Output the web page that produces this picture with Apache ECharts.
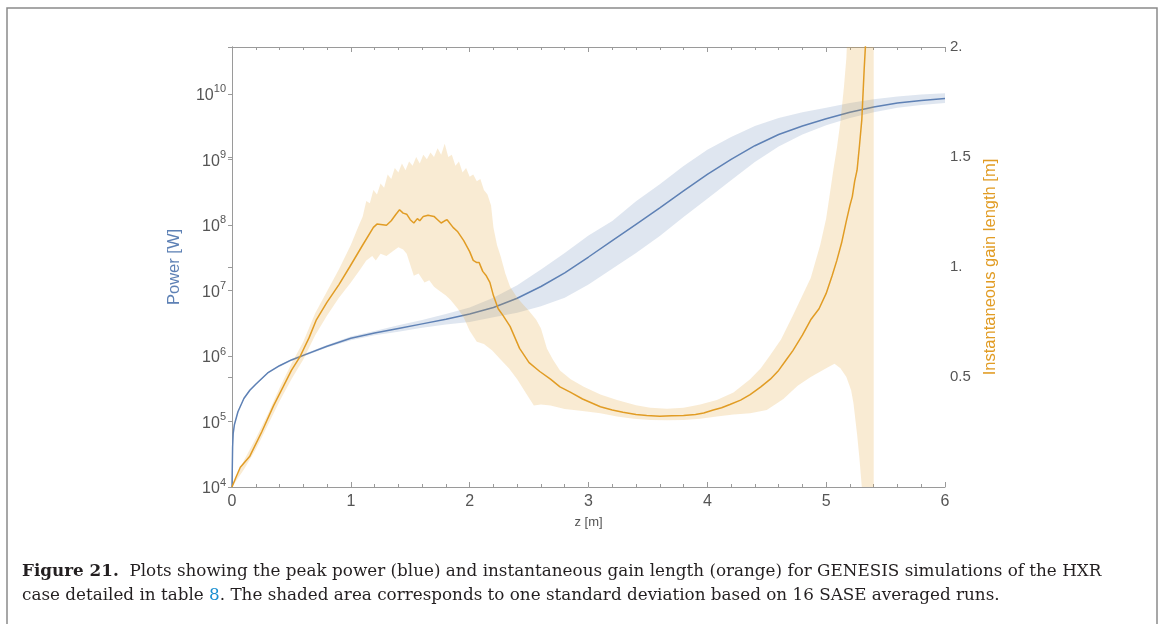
<!DOCTYPE html>
<html>
<head>
<meta charset="utf-8">
<script src="https://cdn.jsdelivr.net/npm/echarts@6/dist/echarts.min.js"></script>
<style>
  html, body { margin: 0; padding: 0; background: #ffffff; }
  #main { width: 1165px; height: 624px; }
</style>
</head>
<body>
<div id="main"></div>
<script>
// Peak power (W) along the undulator, mean and one-sigma band
const powerZ = [0, 0.005, 0.01, 0.02, 0.05, 0.1, 0.15, 0.2, 0.3, 0.4, 0.5, 0.6, 0.8, 1.0, 1.2, 1.4, 1.6, 1.8,
  2.0, 2.2, 2.4, 2.6, 2.8, 3.0, 3.2, 3.4, 3.6, 3.8, 4.0, 4.2, 4.4, 4.6, 4.8, 5.0, 5.2, 5.4, 5.6, 5.8, 6.0];
const powerMean = [1.0e4, 4.0e4, 6.6e4, 8.9e4, 1.41e5, 2.24e5, 3.0e5, 3.7e5, 5.5e5, 7.1e5, 8.7e5, 1.02e6, 1.41e6,
  1.86e6, 2.24e6, 2.63e6, 3.09e6, 3.63e6, 4.37e6, 5.5e6, 7.6e6, 1.15e7, 1.86e7, 3.24e7, 5.75e7, 1.02e8, 1.82e8,
  3.31e8, 5.9e8, 1.0e9, 1.62e9, 2.4e9, 3.24e9, 4.17e9, 5.25e9, 6.31e9, 7.24e9, 7.94e9, 8.51e9];
const powerUpper = [1.0e4, 4.1e4, 6.8e4, 9.2e4, 1.46e5, 2.3e5, 3.1e5, 3.8e5, 5.65e5, 7.3e5, 9.0e5, 1.06e6, 1.47e6,
  1.99e6, 2.4e6, 2.95e6, 3.55e6, 4.37e6, 5.5e6, 7.76e6, 1.2e7, 2.09e7, 3.72e7, 6.9e7, 1.15e8, 2.29e8, 4.17e8,
  7.94e8, 1.41e9, 2.19e9, 3.24e9, 4.27e9, 5.25e9, 6.17e9, 7.24e9, 8.32e9, 9.1e9, 9.77e9, 1.02e10];
const powerLower = [1.0e4, 3.9e4, 6.4e4, 8.6e4, 1.37e5, 2.18e5, 2.9e5, 3.6e5, 5.35e5, 6.9e5, 8.4e5, 0.98e6, 1.35e6,
  1.74e6, 2.08e6, 2.34e6, 2.69e6, 3.02e6, 3.3e6, 3.89e6, 4.57e6, 5.75e6, 7.76e6, 1.23e7, 2.14e7, 3.72e7, 6.76e7,
  1.32e8, 2.51e8, 4.79e8, 9.1e8, 1.58e9, 2.4e9, 3.31e9, 4.27e9, 5.25e9, 6.17e9, 6.76e9, 7.24e9];

// Instantaneous gain length (m): [z, value]
const gainMean = [[0, 0], [0.03, 0.04], [0.07, 0.09], [0.15, 0.14], [0.25, 0.25], [0.35, 0.37], [0.43, 0.455],
  [0.5, 0.53], [0.57, 0.59], [0.65, 0.68], [0.71, 0.76], [0.8, 0.84], [0.9, 0.92], [0.99, 1.0], [1.1, 1.1],
  [1.19, 1.18], [1.22, 1.195], [1.3, 1.19], [1.34, 1.21], [1.38, 1.24], [1.41, 1.26], [1.44, 1.245],
  [1.47, 1.24], [1.5, 1.215], [1.53, 1.2], [1.56, 1.22], [1.58, 1.21], [1.61, 1.23], [1.65, 1.235],
  [1.7, 1.23], [1.73, 1.215], [1.76, 1.2], [1.79, 1.21], [1.81, 1.215], [1.86, 1.18], [1.9, 1.16],
  [1.95, 1.12], [2.0, 1.07], [2.03, 1.03], [2.06, 1.02], [2.08, 1.02], [2.11, 0.98], [2.14, 0.96],
  [2.17, 0.93], [2.2, 0.87], [2.24, 0.81], [2.28, 0.78], [2.34, 0.73], [2.42, 0.63], [2.5, 0.565],
  [2.59, 0.525], [2.68, 0.49], [2.76, 0.455], [2.85, 0.43], [2.95, 0.4], [3.1, 0.365], [3.2, 0.35],
  [3.29, 0.34], [3.4, 0.33], [3.49, 0.325], [3.6, 0.322], [3.7, 0.324], [3.8, 0.325], [3.9, 0.33],
  [3.97, 0.336], [4.05, 0.35], [4.12, 0.36], [4.19, 0.375], [4.28, 0.395], [4.36, 0.42], [4.45, 0.455],
  [4.53, 0.49], [4.6, 0.53], [4.66, 0.575], [4.72, 0.62], [4.8, 0.69], [4.87, 0.76], [4.94, 0.81],
  [5.0, 0.88], [5.05, 0.96], [5.09, 1.03], [5.13, 1.11], [5.17, 1.21], [5.2, 1.28], [5.22, 1.32],
  [5.24, 1.39], [5.26, 1.44], [5.28, 1.55], [5.3, 1.67], [5.32, 1.9], [5.34, 2.1]];
const gainUpper = [[0, 0], [0.1, 0.12], [0.2, 0.22], [0.3, 0.33], [0.4, 0.45], [0.5, 0.56], [0.6, 0.66],
  [0.7, 0.79], [0.8, 0.89], [0.9, 0.99], [1.0, 1.1], [1.06, 1.18], [1.1, 1.23], [1.13, 1.3], [1.16, 1.29],
  [1.19, 1.35], [1.22, 1.33], [1.25, 1.38], [1.28, 1.36], [1.31, 1.42], [1.34, 1.4], [1.37, 1.45],
  [1.4, 1.43], [1.43, 1.47], [1.46, 1.44], [1.49, 1.48], [1.52, 1.46], [1.55, 1.5], [1.58, 1.47],
  [1.61, 1.51], [1.64, 1.49], [1.67, 1.52], [1.7, 1.5], [1.73, 1.54], [1.76, 1.51], [1.79, 1.56],
  [1.82, 1.5], [1.85, 1.51], [1.88, 1.46], [1.91, 1.48], [1.94, 1.43], [1.97, 1.45], [2.0, 1.41],
  [2.03, 1.42], [2.06, 1.39], [2.09, 1.4], [2.12, 1.35], [2.15, 1.33], [2.18, 1.28], [2.2, 1.18],
  [2.23, 1.1], [2.26, 1.05], [2.3, 0.97], [2.34, 0.91], [2.4, 0.86], [2.45, 0.83], [2.5, 0.8],
  [2.56, 0.76], [2.6, 0.72], [2.65, 0.63], [2.7, 0.58], [2.76, 0.53], [2.85, 0.49], [2.96, 0.456],
  [3.1, 0.42], [3.24, 0.395], [3.4, 0.372], [3.52, 0.36], [3.66, 0.356], [3.8, 0.36], [3.94, 0.375],
  [4.08, 0.395], [4.22, 0.43], [4.36, 0.49], [4.45, 0.54], [4.53, 0.6], [4.62, 0.67], [4.72, 0.78],
  [4.8, 0.87], [4.87, 0.95], [4.95, 1.1], [5.0, 1.22], [5.03, 1.33], [5.06, 1.44], [5.09, 1.54],
  [5.12, 1.66], [5.15, 1.82], [5.17, 1.95], [5.19, 2.2], [5.4, 2.5]];
const gainLower = [[0, 0], [0.1, 0.08], [0.2, 0.17], [0.3, 0.28], [0.4, 0.39], [0.5, 0.49], [0.6, 0.58],
  [0.7, 0.69], [0.8, 0.78], [0.9, 0.86], [1.0, 0.93], [1.08, 0.99], [1.13, 1.03], [1.18, 1.05],
  [1.21, 1.03], [1.25, 1.06], [1.3, 1.05], [1.35, 1.07], [1.4, 1.09], [1.44, 1.08], [1.47, 1.06],
  [1.5, 1.01], [1.53, 0.96], [1.57, 0.97], [1.62, 0.93], [1.66, 0.94], [1.7, 0.91], [1.75, 0.89],
  [1.8, 0.87], [1.84, 0.85], [1.9, 0.81], [1.95, 0.77], [2.0, 0.71], [2.06, 0.66], [2.12, 0.65],
  [2.19, 0.62], [2.26, 0.58], [2.33, 0.54], [2.4, 0.49], [2.47, 0.43], [2.54, 0.37], [2.6, 0.375],
  [2.68, 0.37], [2.8, 0.355], [2.95, 0.345], [3.1, 0.335], [3.24, 0.32], [3.38, 0.31], [3.52, 0.305],
  [3.66, 0.303], [3.8, 0.305], [3.94, 0.31], [4.08, 0.32], [4.22, 0.33], [4.36, 0.335], [4.5, 0.35],
  [4.64, 0.4], [4.76, 0.46], [4.87, 0.5], [5.0, 0.54], [5.07, 0.56], [5.12, 0.54], [5.17, 0.5],
  [5.21, 0.44], [5.23, 0.38], [5.26, 0.24], [5.28, 0.13], [5.3, 0.0], [5.4, 0.0]];

// Axis ticks
const zTicks = [0, 1, 2, 3, 4, 5, 6];
const powerTicks = [1e4, 1e5, 1e6, 1e7, 1e8, 1e9, 1e10];
const gainTicks = [0.5, 1, 1.5, 2];

const BLUE = '#5e81b5';
const ORANGE = '#e19c24';
const FRAME = '#9a9a9a';
const TICK_TEXT = '#555555';
const SANS = 'Liberation Sans';
const CAPTION_FONT = 'DejaVu Serif';
const CAPTION_SIZE = 16.8;

// Filled band between an upper and a lower curve, drawn as one polygon
function bandRenderer(upper, lower, fill) {
  return function (params, api) {
    if (params.dataIndex !== 0) return null;
    const pts = upper.map(p => api.coord(p))
      .concat(lower.slice().reverse().map(p => api.coord(p)));
    return { type: 'polygon', shape: { points: pts }, style: { fill: fill, stroke: null } };
  };
}

const powerUpperPts = powerZ.map((z, i) => [z, powerUpper[i]]);
const powerLowerPts = powerZ.map((z, i) => [z, powerLower[i]]);
const powerMeanPts = powerZ.map((z, i) => [z, powerMean[i]]);

const chart = echarts.init(document.getElementById('main'), null, { renderer: 'canvas' });

const frameAxisLine = { show: true, lineStyle: { color: FRAME, width: 1 } };

chart.setOption({
  animation: false,
  backgroundColor: '#ffffff',
  grid: { left: 232, right: 220, top: 47, bottom: 137, containLabel: false },
  xAxis: [
    {
      type: 'value', position: 'bottom', min: 0, max: 6, interval: 1,
      axisLine: frameAxisLine,
      axisTick: { show: true, inside: true, length: 5, lineStyle: { color: FRAME } },
      minorTick: { show: true, splitNumber: 5, length: 3, lineStyle: { color: FRAME } },
      splitLine: { show: false },
      axisLabel: {
        customValues: zTicks, margin: 7, color: TICK_TEXT, fontSize: 16, fontFamily: SANS
      },
      name: 'z [m]', nameLocation: 'middle', nameGap: 29,
      nameTextStyle: { color: TICK_TEXT, fontSize: 13, fontFamily: SANS }
    },
    {
      type: 'value', position: 'top', min: 0, max: 6, interval: 1,
      axisLine: frameAxisLine,
      axisTick: { show: true, inside: true, length: 5, lineStyle: { color: FRAME } },
      minorTick: { show: true, splitNumber: 5, length: 3, lineStyle: { color: FRAME } },
      splitLine: { show: false },
      axisLabel: { show: false }
    }
  ],
  yAxis: [
    {
      type: 'log', logBase: 10, position: 'left', min: 1e4, max: Math.pow(10, 10.716),
      axisLine: frameAxisLine,
      axisTick: { show: true, inside: false, length: 4, customValues: powerTicks, lineStyle: { color: FRAME } },
      splitLine: { show: false },
      axisLabel: {
        customValues: powerTicks, margin: 6, color: TICK_TEXT,
        formatter: function (v) {
          const e = Math.round(Math.log10(v));
          return '{b|10}{s|' + e + '}';
        },
        rich: {
          b: { fontSize: 16, fontFamily: SANS, color: TICK_TEXT, lineHeight: 20, verticalAlign: 'bottom' },
          s: { fontSize: 11, fontFamily: SANS, color: TICK_TEXT, lineHeight: 11, verticalAlign: 'top' }
        }
      },
      name: 'Power [W]', nameLocation: 'middle', nameGap: 49, nameRotate: 90,
      nameTextStyle: { color: BLUE, fontSize: 16.5, fontFamily: SANS }
    },
    {
      type: 'value', position: 'right', min: 0, max: 2, interval: 0.5,
      axisLine: frameAxisLine,
      axisTick: { show: true, inside: true, length: 4, lineStyle: { color: FRAME } },
      splitLine: { show: false },
      axisLabel: {
        customValues: gainTicks, margin: 5, color: TICK_TEXT, fontSize: 15, fontFamily: SANS,
        formatter: function (v) { return Number.isInteger(v) ? v + '.' : String(v); }
      },
      name: 'Instantaneous gain length [m]', nameLocation: 'middle', nameGap: 37, nameRotate: 90,
      nameTextStyle: { color: ORANGE, fontSize: 16.5, fontFamily: SANS }
    }
  ],
  series: [
    {
      type: 'custom', name: 'Power spread', xAxisIndex: 0, yAxisIndex: 0, clip: true, silent: true, z: 1,
      data: powerUpperPts,
      renderItem: bandRenderer(powerUpperPts, powerLowerPts, 'rgba(94,129,181,0.2)')
    },
    {
      type: 'line', name: 'Power', xAxisIndex: 0, yAxisIndex: 0, data: powerMeanPts,
      showSymbol: false, silent: true, z: 2,
      lineStyle: { color: BLUE, width: 1.5 }
    },
    {
      type: 'custom', name: 'Gain length spread', xAxisIndex: 0, yAxisIndex: 1, clip: true, silent: true, z: 3,
      data: gainUpper,
      renderItem: bandRenderer(gainUpper, gainLower, 'rgba(225,156,36,0.2)')
    },
    {
      type: 'line', name: 'Gain length', xAxisIndex: 0, yAxisIndex: 1, data: gainMean,
      showSymbol: false, silent: true, z: 4,
      lineStyle: { color: ORANGE, width: 1.5 }
    }
  ],
  graphic: [
    {
      type: 'polyline', silent: true,
      shape: { points: [[7, 624], [7, 8], [1157, 8], [1157, 624]] },
      style: { stroke: '#8a8a8a', lineWidth: 1.5, fill: null }
    },
    {
      type: 'text', x: 22, y: 572, silent: true,
      style: {
        text: '{b|Figure 21.}{n|  Plots showing the peak power (blue) and instantaneous gain length (orange) for GENESIS simulations of the HXR}',
        verticalAlign: 'middle',
        rich: {
          b: { fontSize: CAPTION_SIZE, fontFamily: CAPTION_FONT, fontWeight: 'bold', fill: '#231f20' },
          n: { fontSize: CAPTION_SIZE, fontFamily: CAPTION_FONT, fill: '#231f20' }
        }
      }
    },
    {
      type: 'text', x: 22, y: 596, silent: true,
      style: {
        text: '{n|case detailed in table }{l|8}{n|. The shaded area corresponds to one standard deviation based on 16 SASE averaged runs.}',
        verticalAlign: 'middle',
        rich: {
          n: { fontSize: CAPTION_SIZE, fontFamily: CAPTION_FONT, fill: '#231f20' },
          l: { fontSize: CAPTION_SIZE, fontFamily: CAPTION_FONT, fill: '#1a8fd0' }
        }
      }
    }
  ]
});
</script>
</body>
</html>
